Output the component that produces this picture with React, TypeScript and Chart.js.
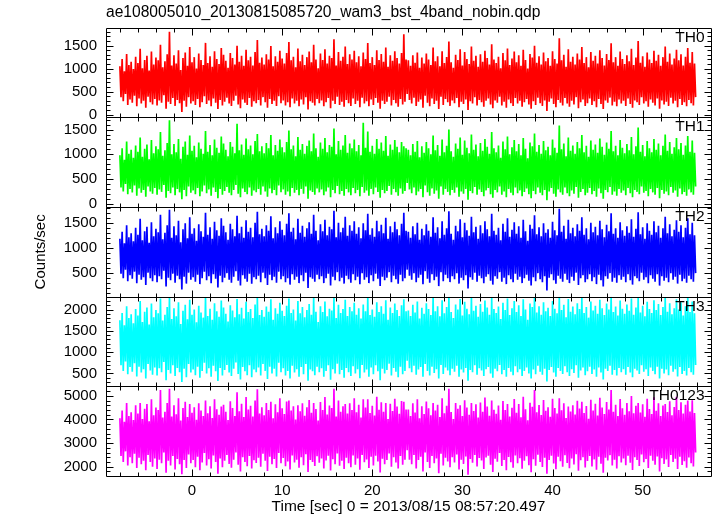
import React, { useEffect, useRef } from "react";
import { Chart, registerables } from "chart.js";

Chart.register(...registerables);

const TITLE = "ae108005010_20130815085720_wam3_bst_4band_nobin.qdp";
const X_LABEL = "Time [sec] 0 = 2013/08/15 08:57:20.497";
const Y_LABEL = "Counts/sec";
const PANEL_NAMES = ["TH0", "TH1", "TH2", "TH3", "TH0123"];
const COLORS = ["#ff0000", "#00ff00", "#0000ff", "#00ffff", "#ff00ff"];
const PANEL_IDS = ["y0", "y1", "y2", "y3", "y4"];

const T_START = -8;
const T_STEP = 0.125;
const X_MIN = -9.54;
const X_MAX = 57.58;
const X_TICKS = [0, 10, 20, 30, 40, 50];
const X_MAJOR = 10;
const X_MINOR = 2;

const Y_MIN = [-60, -67, 18, 197, 1607];
const Y_MAX = [1890, 1747, 1814, 2302, 5401];
const Y_TICKS = [
  [0, 500, 1000, 1500],
  [0, 500, 1000, 1500],
  [500, 1000, 1500],
  [500, 1000, 1500, 2000],
  [2000, 3000, 4000, 5000],
];
const Y_MAJOR = [500, 500, 500, 500, 1000];
const Y_MINOR = [100, 100, 100, 100, 200];

const TH0 = [
  1050, 380, 1210, 290, 940, 450, 1320, 210, 1080, 330, 1150, 260, 990, 410, 1260, 180,
  1120, 350, 1430, 240, 1010, 300, 1190, 150, 1280, 390, 960, 270, 1370, 220, 1090, 340,
  1240, 200, 1180, 310, 1520, 260, 1030, 420, 1160, 130, 1310, 280, 1800, 230, 1070, 360,
  1290, 190, 1110, 320, 1400, 250, 970, 60, 1230, 300, 1350, 170, 1060, 380, 1470, 240,
  1140, 290, 1250, 210, 1000, 340, 1330, 160, 1190, 270, 1080, 400, 1560, 230, 1120, 310,
  1270, 180, 1040, 350, 1380, 260, 1210, 120, 1100, 320, 1450, 200, 1300, 280, 1170, 370,
  1020, 240, 1340, 190, 1230, 300, 1090, 410, 1500, 220, 1150, 140, 1280, 330, 1060, 260,
  1410, 210, 1180, 360, 1260, 170, 1070, 290, 1360, 250, 1620, 320, 1130, 200, 1240, 380,
  1090, 270, 1310, 150, 1200, 340, 1490, 230, 1050, 300, 1270, 190, 1150, 400, 1390, 250,
  1220, 310, 1110, 200, 1340, 270, 1580, 160, 1180, 350, 1260, 240, 1030, 300, 1440, 180,
  1160, 330, 1300, 220, 1080, 380, 1250, 110, 1370, 290, 1140, 260, 1520, 200, 1200, 340,
  1010, 250, 1330, 310, 1190, 180, 1420, 270, 1110, 360, 1280, 140, 1230, 300, 1640, 230,
  1070, 390, 1360, 210, 1170, 280, 1260, 170, 1480, 320, 1100, 250, 1310, 190, 1200, 350,
  1390, 230, 1140, 300, 1270, 160, 1050, 370, 1350, 240, 1210, 290, 1560, 180, 1120, 330,
  1250, 210, 1080, 360, 1400, 260, 1190, 130, 1320, 300, 1150, 230, 1460, 280, 1040, 390,
  1290, 200, 1170, 320, 1380, 250, 1230, 170, 1110, 340, 1340, 220, 1750, 280, 1200, 450,
  1180, 320, 1060, 240, 1290, 370, 1130, 190, 1350, 280, 1020, 330, 1240, 150, 1110, 410,
  1330, 260, 1200, 180, 1080, 350, 1460, 230, 1160, 300, 1270, 120, 1050, 390, 1380, 210,
  1120, 340, 1250, 270, 1590, 190, 1140, 310, 1020, 250, 1300, 360, 1190, 160, 1420, 280,
  1070, 230, 1360, 330, 1210, 100, 1100, 290, 1480, 240, 1170, 380, 1280, 200, 1040, 320,
  1310, 270, 1150, 170, 1390, 300, 1230, 350, 1090, 220, 1530, 140, 1200, 310, 1120, 260,
  1260, 390, 1010, 200, 1340, 280, 1180, 150, 1440, 330, 1080, 250, 1220, 190, 1370, 360,
  1140, 240, 1290, 300, 1060, 170, 1410, 270, 1190, 340, 1000, 220, 1320, 130, 1240, 290,
  1500, 210, 1130, 370, 1270, 250, 1090, 190, 1350, 310, 1160, 80, 1230, 280, 1060, 350,
  1380, 230, 1210, 160, 1110, 320, 1660, 260, 1180, 200, 1300, 360, 1040, 240, 1420, 170,
  1150, 300, 1260, 220, 1090, 380, 1330, 140, 1200, 270, 1470, 330, 1120, 190, 1250, 250,
  1030, 350, 1360, 210, 1170, 290, 1280, 160, 1110, 340, 1400, 230, 1230, 120, 1070, 310,
  1320, 260, 1190, 370, 1550, 200, 1140, 280, 1250, 180, 1060, 330, 1370, 240, 1210, 300,
  1100, 190, 1290, 350, 1160, 230, 1430, 150, 1080, 310, 1240, 270, 1600, 210, 1130, 380,
  1270, 240, 1040, 290, 1350, 170, 1200, 330, 1120, 260, 1390, 200, 1170, 350, 1300, 130,
  1060, 310, 1250, 220, 1480, 280, 1150, 190, 1330, 370, 1090, 240, 1220, 300, 1410, 160,
  1180, 340, 1310, 210, 1070, 270, 1260, 180, 1450, 320, 1130, 250, 1360, 200, 1110, 380,
];

const TH1 = [
  980, 330, 1120, 250, 890, 400, 1260, 190, 1010, 300, 1090, 230, 930, 370, 1180, 160,
  1050, 310, 1340, 220, 950, 280, 1110, 140, 1200, 350, 900, 250, 1290, 200, 1020, 320,
  1160, 180, 1100, 290, 1450, 240, 970, 380, 1080, 120, 1230, 260, 1690, 210, 1000, 330,
  1210, 170, 1040, 300, 1310, 230, 910, 90, 1150, 280, 1260, 150, 990, 350, 1380, 220,
  1070, 270, 1170, 190, 940, 320, 1240, 150, 1110, 250, 1010, 370, 1470, 210, 1050, 290,
  1190, 160, 980, 330, 1300, 240, 1130, 110, 1030, 300, 1360, 180, 1220, 260, 1090, 340,
  960, 220, 1250, 170, 1150, 280, 1020, 380, 1620, 200, 1080, 130, 1200, 310, 990, 240,
  1320, 190, 1100, 330, 1180, 160, 1000, 270, 1270, 230, 1410, 300, 1060, 180, 1160, 350,
  1020, 250, 1230, 140, 1120, 310, 1390, 210, 980, 280, 1190, 170, 1070, 370, 1300, 230,
  1140, 290, 1040, 180, 1250, 250, 1480, 150, 1100, 320, 1180, 220, 960, 280, 1350, 170,
  1090, 300, 1210, 200, 1010, 350, 1170, 100, 1280, 270, 1060, 240, 1420, 180, 1120, 310,
  950, 230, 1240, 290, 1110, 170, 1330, 250, 1040, 330, 1190, 130, 1150, 280, 1520, 210,
  1000, 360, 1270, 190, 1090, 260, 1180, 160, 1390, 300, 1030, 230, 1220, 170, 1120, 320,
  1300, 210, 1060, 280, 1190, 150, 980, 340, 1640, 220, 1130, 270, 1460, 160, 1050, 300,
  1170, 190, 1010, 330, 1310, 240, 1110, 120, 1240, 280, 1070, 210, 1370, 260, 970, 360,
  1200, 180, 1090, 300, 1290, 230, 1150, 160, 1040, 310, 1250, 200, 1160, 260, 1120, 420,
  1090, 290, 980, 210, 1210, 330, 1050, 170, 1270, 250, 940, 300, 1160, 130, 1030, 370,
  1250, 230, 1120, 160, 1000, 310, 1380, 200, 1080, 270, 1190, 100, 970, 350, 1300, 180,
  1040, 300, 1170, 240, 1500, 170, 1060, 280, 950, 220, 1220, 330, 1110, 140, 1340, 250,
  990, 200, 1280, 300, 1130, 80, 1020, 260, 1400, 210, 1090, 340, 1200, 180, 960, 290,
  1230, 240, 1070, 150, 1310, 270, 1150, 320, 1010, 190, 1450, 120, 1120, 280, 1040, 230,
  1180, 350, 930, 180, 1260, 250, 1100, 130, 1360, 300, 1000, 220, 1140, 170, 1290, 330,
  1060, 210, 1210, 270, 980, 150, 1330, 240, 1110, 310, 920, 190, 1240, 110, 1160, 260,
  1420, 190, 1050, 330, 1190, 220, 1010, 170, 1270, 280, 1080, 70, 1150, 250, 980, 320,
  1300, 200, 1130, 140, 1030, 290, 1580, 230, 1100, 180, 1220, 330, 960, 210, 1340, 150,
  1070, 270, 1180, 200, 1010, 340, 1250, 120, 1120, 240, 1390, 300, 1040, 170, 1170, 220,
  950, 320, 1280, 190, 1090, 260, 1200, 140, 1030, 310, 1320, 210, 1150, 100, 990, 280,
  1240, 230, 1110, 340, 1470, 180, 1060, 250, 1170, 160, 980, 300, 1290, 220, 1130, 270,
  1020, 170, 1210, 320, 1080, 210, 1350, 130, 1000, 280, 1160, 240, 1540, 190, 1050, 350,
  1190, 220, 960, 260, 1270, 150, 1120, 300, 1040, 230, 1310, 180, 1090, 320, 1220, 110,
  980, 280, 1170, 200, 1400, 250, 1070, 170, 1250, 340, 1010, 220, 1140, 270, 1330, 140,
  1100, 310, 1230, 190, 990, 240, 1180, 160, 1370, 290, 1050, 230, 1280, 180, 1030, 350,
];

const TH2 = [
  1180, 480, 1320, 390, 1090, 560, 1450, 330, 1210, 450, 1290, 380, 1130, 520, 1400, 290,
  1260, 460, 1580, 360, 1150, 410, 1330, 250, 1420, 500, 1100, 390, 1510, 330, 1230, 450,
  1380, 310, 1310, 430, 1660, 370, 1170, 540, 1300, 220, 1450, 400, 1760, 350, 1200, 480,
  1430, 300, 1250, 440, 1540, 370, 1110, 160, 1370, 420, 1490, 280, 1190, 500, 1610, 360,
  1280, 410, 1390, 320, 1140, 460, 1470, 270, 1330, 390, 1220, 520, 1700, 350, 1260, 430,
  1410, 290, 1180, 470, 1520, 380, 1350, 200, 1240, 440, 1590, 310, 1440, 400, 1310, 490,
  1160, 360, 1480, 300, 1370, 420, 1230, 530, 1640, 340, 1290, 240, 1420, 450, 1200, 380,
  1550, 320, 1320, 480, 1400, 280, 1210, 410, 1500, 370, 1720, 440, 1270, 310, 1380, 500,
  1230, 390, 1450, 250, 1340, 460, 1630, 350, 1190, 420, 1410, 300, 1290, 520, 1530, 370,
  1360, 430, 1250, 310, 1480, 390, 1690, 260, 1320, 470, 1400, 360, 1170, 420, 1580, 290,
  1300, 450, 1440, 330, 1220, 500, 1390, 190, 1510, 410, 1280, 380, 1660, 320, 1340, 460,
  1150, 370, 1470, 430, 1330, 290, 1560, 390, 1250, 480, 1420, 240, 1370, 420, 1740, 350,
  1210, 510, 1500, 330, 1310, 400, 1400, 280, 1620, 440, 1240, 370, 1450, 300, 1340, 470,
  1530, 350, 1280, 420, 1410, 270, 1190, 490, 1490, 360, 1350, 410, 1680, 290, 1260, 450,
  1390, 330, 1220, 480, 1540, 380, 1330, 230, 1460, 420, 1290, 350, 1600, 400, 1180, 510,
  1430, 310, 1310, 440, 1520, 370, 1370, 280, 1250, 460, 1480, 330, 1700, 390, 1340, 560,
  1320, 440, 1200, 360, 1430, 490, 1270, 310, 1500, 400, 1160, 460, 1380, 270, 1250, 530,
  1470, 380, 1340, 300, 1220, 470, 1610, 350, 1300, 420, 1410, 230, 1190, 510, 1530, 330,
  1260, 460, 1390, 390, 1730, 310, 1280, 430, 1160, 370, 1440, 490, 1330, 280, 1570, 400,
  1210, 350, 1500, 450, 1350, 180, 1240, 410, 1620, 360, 1310, 500, 1420, 320, 1180, 440,
  1450, 390, 1290, 290, 1530, 420, 1370, 470, 1230, 340, 1680, 260, 1340, 430, 1260, 380,
  1400, 510, 1150, 320, 1480, 400, 1320, 270, 1590, 450, 1220, 370, 1360, 310, 1510, 480,
  1280, 360, 1430, 420, 1200, 290, 1560, 390, 1330, 460, 1140, 340, 1460, 240, 1380, 410,
  1650, 330, 1270, 490, 1410, 370, 1230, 310, 1490, 430, 1300, 140, 1370, 400, 1200, 470,
  1520, 350, 1350, 280, 1250, 440, 1780, 380, 1320, 320, 1440, 480, 1180, 360, 1560, 290,
  1290, 420, 1400, 340, 1230, 500, 1470, 250, 1340, 390, 1610, 450, 1260, 310, 1390, 370,
  1170, 470, 1500, 330, 1310, 410, 1420, 270, 1250, 460, 1540, 350, 1370, 220, 1210, 430,
  1460, 380, 1330, 490, 1690, 320, 1280, 400, 1390, 300, 1200, 450, 1510, 360, 1350, 420,
  1240, 310, 1430, 470, 1300, 350, 1570, 260, 1220, 430, 1380, 390, 1710, 330, 1270, 500,
  1410, 360, 1180, 410, 1490, 290, 1340, 450, 1260, 380, 1530, 320, 1310, 470, 1440, 240,
  1200, 430, 1390, 340, 1620, 400, 1290, 310, 1470, 490, 1230, 360, 1360, 420, 1550, 280,
  1320, 460, 1450, 330, 1210, 380, 1400, 300, 1590, 440, 1270, 370, 1500, 320, 1250, 490,
];

const TH3 = [
  1750, 690, 1920, 560, 1630, 780, 2080, 480, 1800, 650, 1890, 540, 1680, 740, 2010, 430,
  1860, 660, 2200, 520, 1710, 600, 1950, 380, 2050, 720, 1650, 570, 2140, 470, 1820, 640,
  1990, 450, 1910, 620, 2260, 530, 1740, 770, 1880, 340, 2060, 580, 2290, 500, 1780, 690,
  2030, 440, 1840, 630, 2170, 530, 1660, 300, 1970, 610, 2110, 410, 1770, 720, 2230, 520,
  1880, 590, 2000, 460, 1700, 660, 2090, 400, 1930, 560, 1810, 750, 2280, 500, 1850, 620,
  2020, 420, 1760, 680, 2150, 550, 1960, 320, 1830, 630, 2210, 450, 2050, 580, 1900, 700,
  1720, 520, 2100, 440, 1980, 610, 1820, 760, 2250, 490, 1890, 360, 2040, 650, 1790, 550,
  2180, 460, 1940, 690, 2010, 410, 1800, 590, 2120, 530, 2270, 640, 1870, 450, 1990, 720,
  1830, 560, 2070, 370, 1950, 660, 2240, 500, 1760, 610, 2030, 430, 1900, 750, 2160, 530,
  1970, 620, 1850, 450, 2090, 560, 2260, 380, 1920, 680, 2000, 520, 1740, 600, 2200, 420,
  1910, 650, 2060, 480, 1820, 720, 1990, 330, 2130, 590, 1880, 550, 2280, 460, 1950, 660,
  1710, 530, 2080, 620, 1940, 420, 2190, 560, 1840, 690, 2020, 350, 1980, 600, 2270, 500,
  1800, 730, 2110, 480, 1920, 580, 2010, 400, 2230, 630, 1850, 530, 2060, 440, 1960, 670,
  2160, 500, 1880, 600, 2030, 390, 1790, 700, 2120, 520, 1960, 590, 2290, 420, 1870, 640,
  2000, 480, 1830, 690, 2170, 550, 1940, 340, 2080, 610, 1900, 500, 2220, 580, 1760, 730,
  2050, 450, 1920, 630, 2140, 540, 1990, 410, 1850, 660, 2100, 480, 2240, 560, 1960, 800,
  1980, 620, 1850, 530, 2110, 680, 1930, 470, 2190, 590, 1790, 650, 2040, 420, 1900, 720,
  2150, 560, 2010, 450, 1870, 660, 2280, 510, 1960, 600, 2080, 380, 1840, 700, 2220, 490,
  1910, 640, 2060, 570, 2300, 460, 1940, 610, 1800, 540, 2120, 680, 2000, 420, 2250, 590,
  1860, 520, 2180, 630, 2020, 330, 1890, 580, 2290, 530, 1970, 690, 2090, 470, 1830, 620,
  2130, 570, 1950, 440, 2210, 600, 2050, 650, 1880, 500, 2270, 400, 2010, 610, 1920, 550,
  2070, 700, 1780, 480, 2160, 580, 1990, 420, 2260, 630, 1870, 540, 2030, 460, 2200, 670,
  1940, 530, 2100, 600, 1850, 440, 2240, 560, 2000, 640, 1760, 500, 2140, 380, 2060, 590,
  2290, 480, 1930, 680, 2080, 540, 1880, 470, 2170, 610, 1960, 310, 2040, 580, 1850, 650,
  2200, 520, 2020, 420, 1910, 630, 2300, 560, 1990, 490, 2110, 670, 1820, 530, 2250, 440,
  1950, 600, 2070, 510, 1890, 690, 2150, 400, 2010, 570, 2280, 640, 1920, 460, 2060, 550,
  1810, 660, 2190, 490, 1980, 590, 2090, 420, 1900, 640, 2230, 520, 2030, 360, 1870, 610,
  2140, 560, 2000, 680, 2300, 470, 1940, 580, 2070, 450, 1860, 630, 2210, 530, 2020, 600,
  1900, 470, 2120, 650, 1970, 520, 2260, 410, 1880, 610, 2050, 570, 2290, 490, 1930, 690,
  2090, 540, 1840, 600, 2180, 440, 2010, 640, 1920, 560, 2220, 480, 1990, 660, 2130, 380,
  1870, 610, 2060, 500, 2270, 590, 1950, 460, 2150, 680, 1890, 540, 2030, 600, 2240, 430,
  2000, 650, 2170, 490, 1860, 560, 2080, 450, 2290, 630, 1940, 530, 2190, 470, 1910, 700,
];

const TH0123 = [
  4050, 2450, 4380, 2200, 3900, 2650, 4700, 2050, 4150, 2400, 4300, 2150, 3980, 2550, 4600, 1950,
  4250, 2380, 4700, 2100, 4020, 2250, 4450, 1850, 4650, 2500, 3920, 2200, 4850, 2000, 4180, 2350,
  4500, 1900, 4400, 2300, 5250, 2150, 4080, 2600, 4320, 1750, 4700, 2250, 5300, 2050, 4120, 2450,
  4600, 1880, 4220, 2330, 4900, 2100, 3950, 1680, 4480, 2280, 4750, 1950, 4100, 2520, 4650, 2150,
  4280, 2280, 4520, 1980, 3990, 2420, 4680, 1850, 4380, 2180, 4150, 2580, 4800, 2050, 4260, 2320,
  4560, 1920, 4060, 2480, 4850, 2200, 4430, 1700, 4200, 2350, 4550, 1980, 4620, 2250, 4330, 2500,
  3980, 2120, 4770, 1960, 4480, 2300, 4150, 2600, 5150, 2080, 4350, 1800, 4660, 2400, 4100, 2200,
  4950, 2020, 4420, 2450, 4580, 1930, 4120, 2270, 4800, 2160, 5280, 2380, 4250, 2000, 4520, 2550,
  4180, 2250, 4700, 1820, 4400, 2420, 4750, 2100, 4050, 2330, 4640, 1950, 4300, 2580, 4900, 2150,
  4470, 2370, 4230, 2020, 4760, 2220, 4800, 1880, 4380, 2480, 4560, 2180, 4000, 2300, 4600, 1960,
  4350, 2400, 4690, 2060, 4160, 2530, 4520, 1780, 4820, 2290, 4280, 2200, 4700, 2030, 4440, 2440,
  3950, 2170, 4740, 2350, 4400, 1930, 4950, 2260, 4210, 2470, 4590, 1840, 4480, 2320, 5300, 2100,
  4120, 2560, 4800, 2040, 4330, 2250, 4560, 1900, 4650, 2380, 4250, 2150, 4680, 1980, 4400, 2480,
  4900, 2080, 4300, 2350, 4620, 1870, 4080, 2500, 4850, 2190, 4500, 2310, 4850, 1950, 4270, 2420,
  4580, 2050, 4170, 2460, 4960, 2220, 4410, 1760, 4730, 2340, 4330, 2100, 4700, 2280, 4020, 2560,
  4660, 2000, 4360, 2400, 4880, 2180, 4550, 1920, 4240, 2450, 4780, 2080, 4750, 2300, 4420, 2700,
  4420, 2300, 4150, 2100, 4680, 2500, 4290, 1920, 4850, 2280, 4050, 2420, 4560, 1800, 4230, 2600,
  4760, 2200, 4470, 1950, 4180, 2450, 4700, 2150, 4380, 2350, 4620, 1720, 4100, 2550, 4900, 2050,
  4260, 2380, 4580, 2220, 5300, 1980, 4310, 2400, 4020, 2180, 4700, 2520, 4450, 1880, 4600, 2300,
  4140, 2120, 4810, 2430, 4500, 1660, 4200, 2330, 4700, 2170, 4360, 2500, 4640, 2010, 4080, 2370,
  4720, 2260, 4330, 1900, 4930, 2390, 4550, 2470, 4160, 2080, 4800, 1780, 4410, 2340, 4240, 2210,
  4590, 2580, 3990, 2030, 4780, 2290, 4400, 1850, 4650, 2410, 4120, 2190, 4490, 1960, 4870, 2480,
  4280, 2150, 4650, 2360, 4090, 1910, 4960, 2250, 4430, 2440, 3960, 2060, 4710, 1770, 4540, 2320,
  5250, 2040, 4300, 2510, 4610, 2200, 4190, 1990, 4820, 2380, 4370, 1700, 4520, 2290, 4110, 2460,
  4880, 2140, 4480, 1890, 4250, 2420, 4900, 2230, 4390, 2000, 4690, 2490, 4060, 2160, 4550, 1940,
  4340, 2350, 4600, 2090, 4210, 2530, 4790, 1830, 4460, 2270, 4750, 2400, 4270, 1970, 4570, 2240,
  4030, 2450, 4830, 2010, 4380, 2310, 4660, 1870, 4170, 2420, 4920, 2130, 4510, 1750, 4230, 2380,
  4740, 2260, 4420, 2490, 5250, 2050, 4320, 2300, 4620, 1930, 4140, 2440, 4860, 2180, 4470, 2350,
  4200, 2060, 4700, 2460, 4350, 2170, 4990, 1860, 4260, 2400, 4580, 2280, 4700, 2030, 4290, 2520,
  4640, 2190, 4110, 2330, 4880, 1950, 4440, 2470, 4230, 2250, 4940, 2080, 4370, 2430, 4680, 1800,
  4150, 2360, 4590, 2120, 4650, 2310, 4310, 1990, 4770, 2500, 4180, 2200, 4530, 2340, 4960, 1900,
  4400, 2420, 4730, 2070, 4250, 2230, 4620, 1960, 4800, 2390, 4340, 2150, 4810, 2010, 4270, 2600,
];

const SERIES = [TH0, TH1, TH2, TH3, TH0123];

const FONT_FAMILY = '"Liberation Sans", Arial, Helvetica, sans-serif';

const framePlugin = {
  id: "qdpFrames",
  afterDatasetsDraw(chart: any) {
    const ctx = chart.ctx as CanvasRenderingContext2D;
    const xs = chart.scales.x;
    const L = Math.round(xs.left) + 0.5;
    const R = Math.round(xs.right) + 0.5;
    ctx.save();
    ctx.strokeStyle = "#000";
    ctx.lineWidth = 1;
    PANEL_IDS.forEach((id, k) => {
      const ys = chart.scales[id];
      const T = Math.round(ys.top) + 0.5;
      const B = Math.round(ys.bottom) + 0.5;
      ctx.beginPath();
      ctx.rect(L, T, R - L, B - T);
      ctx.stroke();
      ctx.beginPath();
      for (let v = Math.ceil(X_MIN / X_MINOR) * X_MINOR; v <= X_MAX; v += X_MINOR) {
        const px = Math.round(xs.getPixelForValue(v)) + 0.5;
        const len = v % X_MAJOR === 0 ? 7 : 4;
        ctx.moveTo(px, T);
        ctx.lineTo(px, T + len);
        ctx.moveTo(px, B);
        ctx.lineTo(px, B - len);
      }
      const minor = Y_MINOR[k];
      const major = Y_MAJOR[k];
      for (let v = Math.ceil(ys.min / minor) * minor; v <= ys.max; v += minor) {
        const py = Math.round(ys.getPixelForValue(v)) + 0.5;
        const len = v % major === 0 ? 7 : 4;
        ctx.moveTo(L, py);
        ctx.lineTo(L + len, py);
        ctx.moveTo(R, py);
        ctx.lineTo(R - len, py);
      }
      ctx.stroke();
      ctx.fillStyle = "#000";
      ctx.font = "15.5px " + FONT_FAMILY;
      ctx.textAlign = "right";
      ctx.textBaseline = "top";
      ctx.fillText(PANEL_NAMES[k], R - 7, T + 1);
    });
    ctx.restore();
  },
};

export default function App() {
  const ref = useRef<HTMLCanvasElement>(null);

  useEffect(() => {
    const canvas = ref.current;
    if (!canvas) return;

    const datasets = SERIES.map((vals, k) => ({
      label: PANEL_NAMES[k],
      data: vals.map((v, i) => ({ x: T_START + i * T_STEP, y: v })),
      xAxisID: "x",
      yAxisID: PANEL_IDS[k],
      borderColor: COLORS[k],
      backgroundColor: COLORS[k],
      borderWidth: 1.7,
      borderJoinStyle: "bevel",
      pointRadius: 0,
      tension: 0,
      fill: false,
    }));

    const scales: any = {
      x: {
        type: "linear",
        position: "bottom",
        min: X_MIN,
        max: X_MAX,
        grid: { display: false, drawTicks: false },
        border: { display: false },
        afterBuildTicks: (s: any) => {
          s.ticks = X_TICKS.map((v) => ({ value: v }));
        },
        ticks: {
          autoSkip: false,
          maxRotation: 0,
          padding: 6,
          color: "#000",
          font: { size: 15, family: FONT_FAMILY },
        },
        title: {
          display: true,
          text: X_LABEL,
          color: "#000",
          padding: 0,
          font: { size: 15.5, family: FONT_FAMILY },
        },
        afterFit: (s: any) => {
          s.height = 40;
        },
      },
    };

    PANEL_IDS.forEach((id, k) => {
      scales[id] = {
        type: "linear",
        position: "left",
        stack: "panels",
        stackWeight: 1,
        weight: 5 - k,
        min: Y_MIN[k],
        max: Y_MAX[k],
        grid: { display: false, drawTicks: false },
        border: { display: false },
        afterBuildTicks: (s: any) => {
          s.ticks = Y_TICKS[k].map((v) => ({ value: v }));
        },
        ticks: {
          autoSkip: false,
          padding: 9,
          color: "#000",
          font: { size: 15, family: FONT_FAMILY },
          callback: (v: any) => String(v),
        },
        title: {
          display: k === 2,
          text: Y_LABEL,
          color: "#000",
          padding: { top: 32, bottom: 0 },
          font: { size: 15, family: FONT_FAMILY },
        },
        afterFit: (s: any) => {
          s.width = 106;
        },
      };
    });

    const chart = new Chart(canvas, {
      type: "line",
      data: { datasets },
      options: {
        animation: false,
        responsive: false,
        devicePixelRatio: 1,
        layout: { padding: { left: 0, right: 6, top: 0, bottom: 0 } },
        plugins: {
          legend: { display: false },
          tooltip: { enabled: false },
          title: {
            display: true,
            text: TITLE,
            align: "start",
            fullSize: false,
            color: "#000",
            padding: { top: 3, bottom: 6 },
            font: { size: 15.6, weight: "normal", family: FONT_FAMILY },
          },
        },
        scales,
      },
      plugins: [framePlugin],
    } as any);

    return () => chart.destroy();
  }, []);

  return (
    <div style={{ position: "absolute", left: 0, top: 0, width: 717, height: 516, background: "#fff" }}>
      <canvas ref={ref} width={717} height={516} style={{ display: "block", width: 717, height: 516 }} />
    </div>
  );
}
